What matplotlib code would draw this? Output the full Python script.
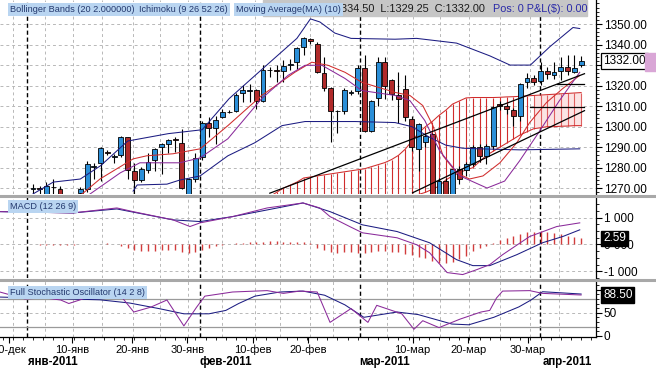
import numpy as np
import matplotlib
matplotlib.use("Agg")
import matplotlib.pyplot as plt
import matplotlib.transforms as mtransforms
from matplotlib.patches import Rectangle
from matplotlib.lines import Line2D

plt.rcParams['font.family'] = ['Liberation Sans', 'DejaVu Sans']

# daily bars, bar 0 = first visible candle (early Jan 2011)
opens = [1269.5, 1270.0, 1267.0, 1270.5, 1269.8, 1264.0, 1262.0, 1267.5, 1269.8, 1280.5,
         1282.5, 1287.6, 1285.0, 1286.1, 1294.8, 1278.4, 1273.9, 1278.8, 1283.8, 1290.2,
         1291.7, 1293.6, 1291.8, 1265.0, 1274.4, 1285.0, 1301.8, 1299.2, 1304.9, 1307.0,
         1307.8, 1316.2, 1317.5, 1317.8, 1312.7, 1327.5, 1327.8, 1327.2, 1330.0, 1331.5,
         1338.6, 1342.5, 1340.5, 1326.3, 1318.8, 1307.5, 1307.8, 1316.5, 1317.2, 1328.8,
         1298.0, 1314.1, 1331.5, 1322.5, 1315.5, 1318.5, 1303.8, 1289.1, 1292.3, 1296.4,
         1264.0, 1273.5, 1266.0, 1279.2, 1279.0, 1281.7, 1289.9, 1285.8, 1290.7, 1311.1,
         1310.2, 1308.2, 1305.4, 1321.7, 1323.8, 1322.3, 1327.0, 1325.0, 1327.2, 1329.1,
         1326.8, 1330.0]
highs = [1272.0, 1271.0, 1273.2, 1274.4, 1271.0, 1265.5, 1265.0, 1270.5, 1283.3, 1282.5,
         1290.0, 1288.5, 1286.5, 1295.6, 1295.2, 1282.5, 1280.5, 1287.4, 1289.5, 1292.0,
         1294.0, 1295.1, 1298.9, 1275.0, 1287.4, 1303.0, 1304.6, 1305.4, 1308.7, 1308.0,
         1316.5, 1320.1, 1320.6, 1318.3, 1329.9, 1329.0, 1329.9, 1332.4, 1333.2, 1338.8,
         1343.5, 1343.3, 1341.0, 1334.0, 1319.5, 1308.0, 1319.0, 1318.0, 1330.0, 1334.8,
         1313.0, 1334.0, 1334.0, 1323.0, 1326.6, 1325.0, 1305.0, 1302.0, 1297.0, 1297.0,
         1275.0, 1275.0, 1280.0, 1281.0, 1283.0, 1291.0, 1291.5, 1291.5, 1310.0, 1312.5,
         1311.0, 1309.0, 1321.5, 1326.0, 1325.0, 1331.5, 1329.0, 1331.5, 1334.0, 1335.0,
         1335.0, 1334.5]
lows = [1267.0, 1267.0, 1266.0, 1266.0, 1262.0, 1258.0, 1258.0, 1265.0, 1268.0, 1274.5,
        1273.5, 1286.0, 1282.5, 1285.0, 1274.4, 1267.0, 1273.0, 1277.5, 1278.4, 1276.8,
        1287.0, 1287.7, 1269.5, 1262.0, 1273.0, 1284.0, 1295.0, 1291.5, 1304.0, 1306.5,
        1307.0, 1311.9, 1312.0, 1308.7, 1312.0, 1324.0, 1322.0, 1321.7, 1327.5, 1328.0,
        1334.8, 1340.5, 1326.0, 1317.5, 1292.3, 1297.0, 1306.0, 1315.5, 1316.0, 1297.5,
        1297.5, 1310.0, 1313.6, 1313.0, 1302.0, 1303.0, 1288.0, 1278.4, 1290.0, 1258.0,
        1258.0, 1260.0, 1262.0, 1272.0, 1276.0, 1281.0, 1283.0, 1281.7, 1289.0, 1308.0,
        1306.0, 1300.5, 1303.0, 1319.0, 1320.1, 1320.1, 1323.0, 1323.0, 1322.5, 1325.0,
        1326.0, 1329.25]
closes = [1270.0, 1269.5, 1271.1, 1270.2, 1264.0, 1262.0, 1264.0, 1269.5, 1281.7, 1281.0,
          1289.4, 1287.2, 1285.5, 1294.8, 1278.9, 1273.9, 1279.6, 1283.0, 1289.1, 1291.5,
          1293.3, 1293.3, 1270.3, 1274.4, 1284.5, 1301.8, 1299.2, 1303.4, 1307.0, 1307.3,
          1315.5, 1317.8, 1317.8, 1312.7, 1327.5, 1327.8, 1327.2, 1329.6, 1330.3, 1338.4,
          1343.0, 1341.7, 1326.6, 1318.8, 1307.8, 1307.8, 1318.1, 1317.0, 1328.8, 1298.0,
          1312.7, 1331.5, 1319.8, 1316.0, 1313.6, 1304.6, 1289.9, 1301.3, 1295.6, 1262.0,
          1273.5, 1265.0, 1279.2, 1274.4, 1281.7, 1289.9, 1285.8, 1290.7, 1309.5, 1310.0,
          1308.5, 1305.4, 1320.9, 1323.9, 1322.0, 1327.1, 1325.5, 1326.7, 1329.1, 1327.2,
          1328.5, 1332.0]

# Bollinger bands (read at points along the curves)
bb_upper_i = [0, 3, 7, 10, 14, 17, 20, 25, 29, 34, 39, 41, 42.4, 44.6, 47, 53.5, 56.7, 62.6,
              67.5, 70.5, 73.5, 76.4, 79.8, 80.8]
bb_upper = [1267.2, 1273, 1274.5, 1281, 1293, 1294.8, 1296.6, 1298.5, 1313.7, 1328.4, 1343,
            1352.5, 1351, 1345.6, 1343, 1342.6, 1343, 1340.7, 1334.5, 1330, 1330, 1339,
            1348.3, 1347.8]
bb_lower_i = [14.8, 15.4, 19.8, 21.7, 24.7, 28.8, 32.8, 36.8, 40.2, 47.6, 53.5, 56, 58.5, 61,
              63.5, 66, 72, 80.8]
bb_lower = [1268.6, 1271.6, 1272, 1274, 1276, 1285.8, 1292.2, 1300.5, 1302.5, 1302.5, 1302,
            1300, 1295, 1291, 1289.5, 1289.2, 1288.7, 1289.2]

# moving average (10) and ichimoku conversion line
ma_i = [5.5, 6.9, 9.9, 14.8, 16.8, 20.7, 24.7, 28.8, 33.8, 38.7, 41.2, 43.6, 46.1, 48.6, 53.5,
        55.7, 57.6, 59.1, 60.6, 62.6, 64.5, 66.5, 69, 71.5, 73.4, 75.9, 78.3, 80.8]
ma = [1262, 1266.2, 1274.5, 1284.3, 1285.8, 1286.8, 1289.2, 1300.5, 1315.2, 1326.5, 1331.4,
      1329.9, 1326.5, 1321.6, 1316.7, 1315.2, 1310.3, 1300.5, 1285.8, 1277.5, 1274.5, 1276,
      1282.4, 1292.2, 1302, 1311.8, 1318.6, 1325]
tenkan_i = [6.5, 8, 12.9, 15.8, 21.7, 24.7, 28.8, 33.8, 37.7, 40.2, 42.7, 46.1, 48.6, 53.5,
            55.7, 57.9, 60.1, 63.1, 67.1, 69.7, 71.9, 74.9, 77.8, 80.8]
tenkan = [1262, 1266.2, 1277.5, 1282.4, 1282.4, 1284.8, 1294.1, 1313.7, 1325, 1329.9, 1329.9,
          1323.5, 1317.6, 1315.2, 1312.7, 1303, 1288.2, 1276, 1270.1, 1273.5, 1283.3, 1298,
          1312.7, 1326.5]

# ichimoku cloud, bars 35..81
cloud_start = 35
cloud_top = [1266, 1268, 1270, 1271.5, 1273, 1275, 1275.5, 1276, 1276.5, 1277, 1277.5, 1278,
             1278.5, 1279, 1279.5, 1280.5, 1281.5, 1282.5, 1284, 1286, 1289, 1293, 1297, 1300,
             1302.5, 1305.5, 1308, 1311, 1312.5, 1314, 1314.2, 1314.2, 1314.2, 1314.2, 1314.3,
             1314.5, 1314.6, 1314.8, 1315, 1315.2, 1315.4, 1315.6, 1315.8, 1316, 1316.2, 1316.4,
             1316.6]
cloud_bot = [1255] * 20 + [1264, 1266, 1267, 1268, 1269.5, 1271, 1274, 1276, 1277.5, 1279,
                           1280, 1283, 1286, 1288, 1290, 1292, 1294, 1296, 1297.5, 1299,
                           1299.5, 1300, 1300, 1300.2, 1300.3, 1300.5, 1300.5]

# drawn lines
trend1_i, trend1 = [35, 81.5], [1267.6, 1325.8]
trend2_i, trend2 = [56.1, 81.5], [1267.8, 1307.8]
level1_i, level1 = [73.4, 81.5], [1309.5, 1309.5]
level2_i, level2 = [77.4, 81.5], [1320.9, 1320.9]

# MACD (12 26 9)
macd_i = [-4.9, 5.9, 12.4, 14.8, 20.7, 23.2, 24.7, 29.5, 34.6, 39.9, 42.4, 43.9, 46.8, 48.7,
          53.8, 56.7, 58.6, 61.2, 63.5, 65.6, 67.5, 69.4, 73.4, 77.4, 80.8]
macd = [1222, 1174, 1359, 1222, 915, 667, 804, 1037, 1359, 1545, 1359, 1037, 667, 433, 248,
        -11, -307, -1048, -1122, -937, -752, -381, 296, 667, 804]
signal_i = [-4.9, 5.9, 12.4, 20.7, 24.7, 29.5, 34.6, 39.9, 43.9, 48.7, 53.8, 58.6, 62.6, 65,
            67.5, 71.5, 75.3, 78.3, 80.8]
signal = [1222, 1174, 1322, 915, 852, 1037, 1285, 1545, 1222, 730, 481, 63, -567, -789, -789,
          -381, 63, 296, 544]
hist_start = -4
hist = [20, 15, 10, 10,
        0, -10, -15, -20, -25, -20, -10, 10, 20, 30, 35, 40, 30,
        -40, -120, -200, -240, -250, -240, -220, -200, -220, -280, -330, -300,
        -200, -120, -60, -20, 20, 50, 70, 80, 90, 100, 110, 110, 100, 100, 90, 80, 40,
        -120, -220, -300, -320, -300, -300, -330,
        -330, -300, -250, -250, -280, -300, -350, -400,
        -450, -520, -620, -680, -680, -640, -560,
        -420, -260, -130, -40,
        60, 150, 250, 330, 400, 450, 480, 490, 470, 430, 380, 330, 280, 230]

# Full stochastic (14 2 8)
k_i = [-4.9, -1.2, 1.8, 4.1, 5.3, 6.9, 9.9, 12.9, 14.9, 17.4, 19.8, 22.3, 24.2, 25.4, 29.5,
       34.6, 37, 39.4, 42, 43.9, 47, 49.5, 50.8, 54.5, 56.3, 57.6, 60, 63.1, 66.2, 67.5, 68.5,
       69.4, 73.4, 75.3, 81]
k = [95, 80, 82, 77.6, 70, 77.6, 95, 88, 51.5, 62, 77.6, 21.3, 62.4, 86, 95, 98, 92, 97, 95,
     29, 59, 29, 66, 47.6, 14, 32.6, 17.6, 36, 51.5, 55, 82, 97, 98, 92, 88.5]
d_i = [-4.9, 9.9, 14.3, 18.6, 22.3, 26, 28.5, 30.4, 32.8, 36.5, 39.9, 43.1, 46.1, 48.9, 53.8,
       56.9, 61.9, 64.4, 68.1, 71.8, 73.6, 75.3, 81]
d = [84, 78, 71, 59, 47.6, 47.6, 55, 70, 86, 95, 97, 88, 67, 40, 51.5, 46, 25.4, 23.7, 40,
     62.6, 77.6, 95.6, 90.6]

# axis labels
x_ticks = [-3.5, 5.8, 14.7, 22.8, 32.5, 40.6, 56.1, 64.3, 73.1]
x_labels = ['30-дек', '10-янв', '20-янв', '30-янв', '10-фев', '20-фев', '10-мар', '20-мар', '30-мар']
month_pos = [3, 28.5, 52, 78.9]
month_labels = ['янв-2011', 'фев-2011', 'мар-2011', 'апр-2011']
month_lines = [-0.9, 24.7, 48.3, 74.9]
grid_x = [-3, 1.8, 5.9, 10.2, 14.8, 18.8, 22.9, 27.9, 32.8, 36.5, 40.9, 44.3, 52.3, 56.1,
          60.1, 64.5, 69, 73.4, 77.8]
price_ticks = [1270, 1280, 1290, 1300, 1310, 1320, 1330, 1340, 1350]
price_labels = ['1270.00', '1280.00', '1290.00', '1300.00', '1310.00', '1320.00', '',
                '1340.00', '1350.00']

W, H = 656, 368
fig = plt.figure(figsize=(W / 100, H / 100), dpi=100)
fig.patch.set_facecolor('white')


def box(x0, y0, x1, y1):
    return [x0 / W, 1 - y1 / H, (x1 - x0) / W, (y1 - y0) / H]


ax = fig.add_axes(box(0, 0, 596, 194))
axm = fig.add_axes(box(0, 197, 596, 278))
axs = fig.add_axes(box(0, 281, 596, 337))

GRID = '#b8b8b8'
NAVY = '#1c1c82'
RED = '#d02c2c'
PURPLE = '#8a2a9a'
LW = 0.75

for a in (ax, axm, axs):
    a.set_xlim(-4.87, 83.2)
    for s in ('left', 'top', 'bottom'):
        a.spines[s].set_visible(False)
    a.spines['right'].set_color('black')
    a.spines['right'].set_linewidth(0.9)
    a.yaxis.tick_right()
    a.tick_params(axis='y', which='major', direction='out', length=4, width=0.8,
                  labelsize=8.5, pad=1.5, colors='black')
    a.tick_params(axis='y', which='minor', direction='out', length=2, width=0.6)
    a.tick_params(axis='x', which='both', bottom=False, labelbottom=False)
    for gx in grid_x:
        a.axvline(gx, color=GRID, lw=0.7, ls=(0, (3, 3)), zorder=0)
    for mx in month_lines:
        a.axvline(mx, color='black', lw=1.0, ls=(0, (3, 2)), zorder=1)

# ---- price panel ----
ax.set_ylim(1267.2, 1361.7)
ax.set_yticks(price_ticks)
ax.set_yticklabels(price_labels)
ax.set_yticks(np.arange(1268, 1361, 2), minor=True)
for gy in price_ticks:
    ax.axhline(gy, color=GRID, lw=0.7, ls=(0, (3, 3)), zorder=0)

ci = np.arange(cloud_start, cloud_start + len(cloud_top))
ct = np.array(cloud_top)
cb = np.array(cloud_bot)
light = ci >= 74
ax.fill_between(ci[light], cb[light], ct[light], color='#fbe4e4', lw=0, zorder=1)
ax.vlines(ci[~light], cb[~light], ct[~light], color=RED, lw=0.8, zorder=1.5)
ax.vlines(ci[light], cb[light], ct[light], color='#e06060', lw=0.8, zorder=1.5)
ax.plot(ci, ct, color=RED, lw=LW, zorder=1.6)
ax.plot(ci, cb, color=RED, lw=LW, zorder=1.6)

o, h, l, c = map(np.array, (opens, highs, lows, closes))
idx = np.arange(len(o))
up = c >= o
ht = np.where(np.abs(c - o) < 0.3, 0.3, c - o)
ax.vlines(idx, l, h, color='black', lw=0.8, zorder=3)
ax.bar(idx[up], ht[up], bottom=o[up], width=0.72, color='#2b8fd8', edgecolor='black',
       linewidth=0.6, zorder=4)
ax.bar(idx[~up], ht[~up], bottom=o[~up], width=0.72, color='#b02a2a', edgecolor='black',
       linewidth=0.6, zorder=4)

ax.plot(bb_upper_i, bb_upper, color=NAVY, lw=LW, zorder=5)
ax.plot(bb_lower_i, bb_lower, color=NAVY, lw=LW, zorder=5)
ax.plot(ma_i, ma, color=RED, lw=LW, zorder=5)
ax.plot(tenkan_i, tenkan, color=PURPLE, lw=LW, zorder=5)
for xs, ys in ((trend1_i, trend1), (trend2_i, trend2), (level1_i, level1), (level2_i, level2)):
    ax.plot(xs, ys, color='black', lw=0.9, zorder=5)

ax.text(1.012, closes[-1], '%.2f' % closes[-1], transform=ax.get_yaxis_transform(),
        ha='left', va='center', fontsize=8.5, zorder=10, clip_on=False,
        bbox=dict(boxstyle='square,pad=0.2', fc='white', ec='black', lw=0.9))
fig.patches.append(Rectangle((645 / W, 1 - 71 / H), 11 / W, 18 / H, transform=fig.transFigure,
                             color='#d9a6d6', zorder=5))

# ---- MACD panel ----
axm.set_ylim(-1233, 1767)
axm.set_yticks([-1000, 0, 1000])
axm.set_yticklabels(['-1 000', '0 000', '1 000'])
axm.set_yticks(np.arange(-1250, 1751, 250), minor=True)
for gy in (-1000, 0, 1000):
    axm.axhline(gy, color=GRID, lw=0.7, ls=(0, (3, 3)), zorder=0)
hi = np.arange(hist_start, hist_start + len(hist))
axm.vlines(hi, 0, hist, color='#d23c3c', lw=1.0, zorder=2)
axm.plot(signal_i, signal, color=NAVY, lw=LW, zorder=3)
axm.plot(macd_i, macd, color=PURPLE, lw=LW, zorder=3)
axm.text(1.012, 2.59, '2.59', transform=axm.get_yaxis_transform(), ha='left', va='bottom',
         fontsize=8.5, color='white', zorder=10, clip_on=False,
         bbox=dict(boxstyle='square,pad=0.15', fc='black', ec='black'))

# ---- stochastic panel ----
axs.set_ylim(-2.8, 118.9)
axs.set_yticks([0, 50, 100])
axs.set_yticklabels(['0', '50', ''])
axs.set_yticks(np.arange(0, 111, 10), minor=True)
axs.axhline(50, color=GRID, lw=0.7, ls=(0, (3, 3)), zorder=0)
axs.axhline(20, color='#9a9a9a', lw=0.9, zorder=1)
axs.axhline(80, color='#9a9a9a', lw=0.9, zorder=1)
axs.plot(d_i, d, color=NAVY, lw=LW, zorder=3)
axs.plot(k_i, k, color=PURPLE, lw=LW, zorder=3)
axs.text(1.012, 88.5, '88.50', transform=axs.get_yaxis_transform(), ha='left', va='center',
         fontsize=8.5, color='white', zorder=10, clip_on=False,
         bbox=dict(boxstyle='square,pad=0.15', fc='black', ec='black'))

axs.spines['bottom'].set_visible(True)
axs.spines['bottom'].set_color('black')
axs.spines['bottom'].set_linewidth(0.9)
axs.set_xticks(x_ticks)
axs.set_xticks(np.arange(-4.5, 83, 1.5), minor=True)
axs.tick_params(axis='x', which='major', bottom=True, direction='out', length=4, width=0.8)
axs.tick_params(axis='x', which='minor', bottom=True, direction='out', length=2, width=0.6)
tr = mtransforms.blended_transform_factory(axs.transData, axs.transAxes)
for xp, lab in zip(x_ticks, x_labels):
    axs.text(xp, -0.23, lab, transform=tr, ha='center', va='center', fontsize=8, clip_on=False)
for xp, lab in zip(month_pos, month_labels):
    axs.text(xp, -0.45, lab, transform=tr, ha='center', va='center', fontsize=8.3,
             fontweight='bold', clip_on=False)

# panel separators
for yy in (195.5, 279.5):
    fig.lines.append(Line2D([0, 1], [1 - yy / H] * 2, transform=fig.transFigure,
                            color='#a8a8a8', lw=2.2))

# header
fig.patches.append(Rectangle((263 / W, 1 - 16 / H), (587 - 263) / W, 16 / H,
                             transform=fig.transFigure, color='#c6c6c6', zorder=2))
fig.text(341 / W, 1 - 8.5 / H, '334.50  L:1329.25  C:1332.00', fontsize=7.8, color='#1a1a1a',
         ha='left', va='center', zorder=4)
fig.text(493 / W, 1 - 8.5 / H, 'Pos: 0 P&L($): 0.00', fontsize=7.8, color='#2a2aa8',
         ha='left', va='center', zorder=4, parse_math=False)
LBL = dict(fontsize=6.6, color='#24396e', ha='left', va='center', zorder=6,
           bbox=dict(boxstyle='square,pad=0.25', fc='#b9d5f1', ec='none'))
fig.text(10 / W, 1 - 9.5 / H, 'Bollinger Bands (20 2.000000)', **LBL)
fig.text(139 / W, 1 - 9.5 / H, 'Ichimoku (9 26 52 26)', **LBL)
fig.text(236 / W, 1 - 9.5 / H, 'Moving Average(MA) (10)', **LBL)
fig.text(10 / W, 1 - 206.5 / H, 'MACD (12 26 9)', **LBL)
fig.text(10 / W, 1 - 292.5 / H, 'Full Stochastic Oscillator (14 2 8)', **LBL)

fig.savefig('out.png', dpi=100)
